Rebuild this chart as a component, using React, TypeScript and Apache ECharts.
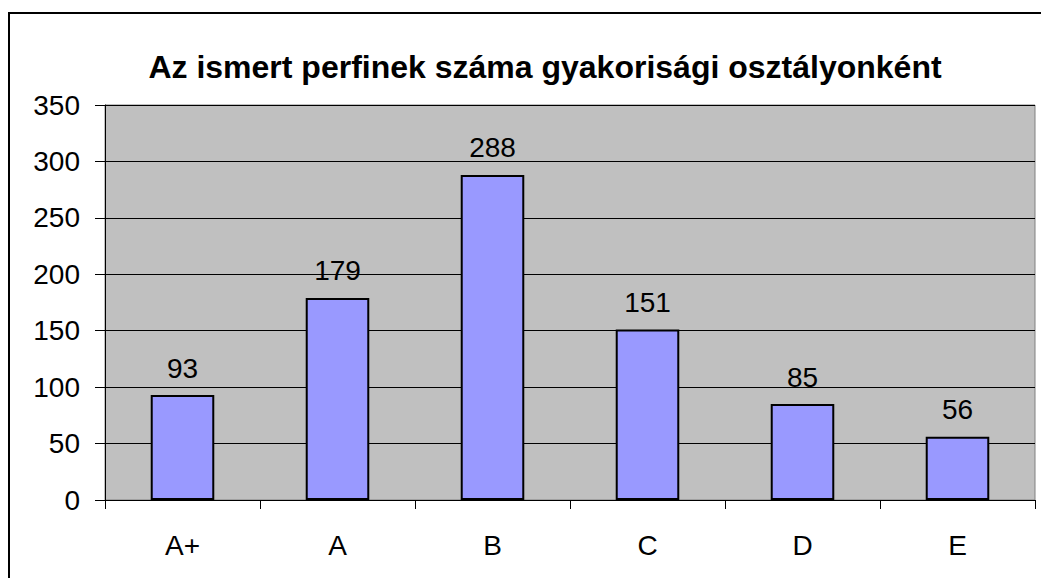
import React, { useEffect, useRef } from "react";
import * as echarts from "echarts";

const title = "Az ismert perfinek száma gyakorisági osztályonként";
const categories = ["A+", "A", "B", "C", "D", "E"];
const values = [93, 179, 288, 151, 85, 56];

export default function App() {
  const ref = useRef<HTMLDivElement>(null);
  useEffect(() => {
    const chart = echarts.init(ref.current!, null, { renderer: "svg" });
    const font = "Liberation Sans, Arial, sans-serif";
    chart.setOption({
      animation: false,
      backgroundColor: "#ffffff",
      title: {
        text: title,
        left: 540,
        top: 46,
        textAlign: "center",
        textStyle: { fontFamily: font, fontSize: 32, fontWeight: "bold", color: "#000" },
      },
      graphic: [
        {
          type: "rect",
          shape: { x: 9, y: 13, width: 1200, height: 800 },
          style: { fill: "none", stroke: "#000", lineWidth: 2 },
          silent: true,
        },
      ],
      grid: {
        left: 105,
        top: 105,
        right: 6,
        bottom: 78,
        show: true,
        backgroundColor: "#C0C0C0",
        borderColor: "#808080",
        borderWidth: 1,
      },
      xAxis: {
        type: "category",
        data: categories,
        axisLine: { lineStyle: { color: "#000", width: 1 } },
        axisTick: { show: true, length: 9, lineStyle: { color: "#000" } },
        axisLabel: { fontFamily: font, fontSize: 28, color: "#000", margin: 31 },
      },
      yAxis: {
        type: "value",
        min: 0,
        max: 350,
        interval: 50,
        axisLine: { show: true, lineStyle: { color: "#000", width: 1 } },
        axisTick: { show: true, length: 10, lineStyle: { color: "#000" } },
        axisLabel: { fontFamily: font, fontSize: 28, color: "#000", margin: 25 },
        splitLine: { show: true, lineStyle: { color: "#000", width: 1 } },
      },
      series: [
        {
          type: "bar",
          data: values,
          barWidth: "41%",
          itemStyle: { color: "#9999FF", borderColor: "#000", borderWidth: 2 },
          label: {
            show: true,
            position: "top",
            distance: 13,
            fontFamily: font,
            fontSize: 28,
            color: "#000",
          },
        },
      ],
    });
    return () => chart.dispose();
  }, []);
  return (
    <div
      ref={ref}
      style={{ position: "absolute", left: 0, top: 0, width: 1041, height: 578 }}
    />
  );
}
